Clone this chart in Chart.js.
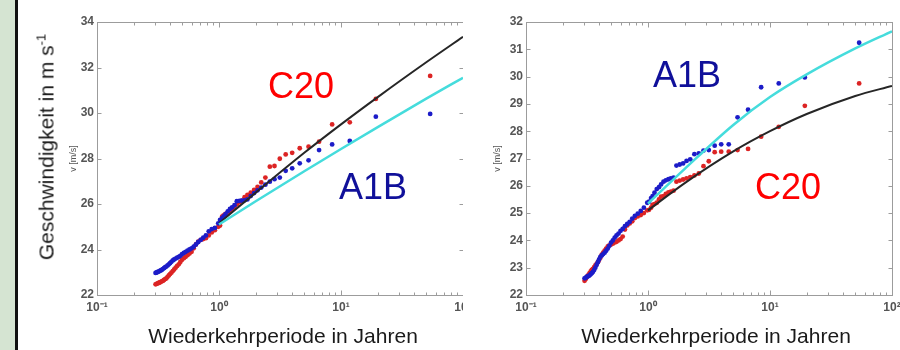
<!DOCTYPE html>
<html><head><meta charset="utf-8">
<script src="https://cdn.jsdelivr.net/npm/chart.js@4.4.1/dist/chart.umd.min.js"></script>
<style>
html,body{margin:0;padding:0;width:900px;height:350px;overflow:hidden;background:#fff;font-family:"Liberation Sans",Arial,sans-serif;}
#strip{position:absolute;left:0;top:0;width:15px;height:350px;background:#d5e4d2;}
#bar{position:absolute;left:15px;top:0;width:3px;height:350px;background:#111;}
#wrapL{position:absolute;left:0;top:0;width:463px;height:350px;overflow:hidden;}
#wrapR{position:absolute;left:470px;top:0;width:430px;height:350px;overflow:hidden;}
canvas{display:block;}
.lbl{position:absolute;white-space:nowrap;line-height:1;z-index:5;}
</style></head>
<body>
<div id="strip"></div><div id="bar"></div>
<div id="wrapL"><canvas id="cL" width="500" height="350"></canvas></div>
<div id="wrapR"><canvas id="cR" width="440" height="350"></canvas></div>
<div class="lbl" style="left:46px;top:147px;font-size:21px;color:#1a1a1a;transform:translate(-50%,-50%) rotate(-90deg);">Geschwindigkeit in m s<sup style="font-size:13px;line-height:0">-1</sup></div>
<div class="lbl" style="left:283px;top:335px;font-size:21px;color:#1a1a1a;transform:translate(-50%,-50%);">Wiederkehrperiode in Jahren</div>
<div class="lbl" style="left:716px;top:335px;font-size:21px;color:#1a1a1a;transform:translate(-50%,-50%);">Wiederkehrperiode in Jahren</div>
<div class="lbl" style="left:268px;top:68px;font-size:36px;color:#ff0000;">C20</div>
<div class="lbl" style="left:339px;top:169px;font-size:36px;color:#10109a;">A1B</div>
<div class="lbl" style="left:653px;top:57px;font-size:36px;color:#10109a;">A1B</div>
<div class="lbl" style="left:755px;top:169px;font-size:36px;color:#ff0000;">C20</div>
<script>
// return periods (years) of the plotted maxima
const periods = [53.8, 19.3, 11.8, 8.46, 6.61, 5.42, 4.59, 3.98, 3.52, 3.15, 2.85, 2.61, 2.40, 2.22, 2.07, 1.94, 1.82, 1.71, 1.62, 1.54, 1.47, 1.40, 1.34, 1.28, 1.23, 1.18, 1.13, 1.09, 1.06, 1.02,
  0.986, 0.925, 0.872, 0.824, 0.781, 0.743, 0.708, 0.676, 0.647, 0.620, 0.596, 0.573, 0.552, 0.533, 0.515, 0.498, 0.482, 0.468, 0.454, 0.441, 0.429, 0.418, 0.407, 0.397, 0.388, 0.379, 0.370, 0.362, 0.354, 0.346, 0.339, 0.332, 0.326, 0.320, 0.314, 0.308, 0.302];

const leftC20 = [31.63, 30.62, 29.59, 29.50, 28.74, 28.52, 28.45, 28.25, 28.18, 27.99, 27.67, 27.64, 27.16, 26.95, 26.75, 26.62, 26.50, 26.40, 26.30, 26.15, 26.08, 25.98, 25.88, 25.78, 25.70, 25.62, 25.56, 25.50, 25.44, 25.05,
  25.00, 24.85, 24.75, 24.62, 24.50, 24.46, 24.42, 24.35, 24.22, 24.05, 23.90, 23.82, 23.75, 23.68, 23.62, 23.55, 23.45, 23.35, 23.28, 23.20, 23.12, 23.05, 22.98, 22.92, 22.86, 22.80, 22.73, 22.70, 22.66, 22.62, 22.60, 22.57, 22.55, 22.53, 22.51, 22.49, 22.47];
const leftA1B = [29.96, 29.84, 28.77, 28.62, 28.37, 27.92, 27.79, 27.57, 27.46, 27.16, 27.09, 26.98, 26.85, 26.72, 26.60, 26.48, 26.35, 26.20, 26.16, 26.15, 26.14, 26.12, 25.95, 25.85, 25.78, 25.68, 25.55, 25.45, 25.38, 25.30,
  25.15, 24.95, 24.90, 24.80, 24.62, 24.52, 24.42, 24.33, 24.22, 24.12, 24.05, 24.00, 23.95, 23.90, 23.85, 23.80, 23.72, 23.68, 23.64, 23.60, 23.56, 23.52, 23.46, 23.40, 23.35, 23.30, 23.25, 23.22, 23.18, 23.14, 23.10, 23.08, 23.05, 23.03, 23.01, 22.99, 22.97];
const rightC20 = [29.75, 28.93, 28.16, 27.80, 27.35, 27.31, 27.25, 27.25, 27.23, 26.90, 26.72, 26.45, 26.38, 26.32, 26.27, 26.23, 26.19, 26.15, 25.82, 25.79, 25.76, 25.70, 25.62, 25.60, 25.50, 25.38, 25.33, 25.30, 25.20, 25.12,
  25.10, 25.00, 24.93, 24.88, 24.82, 24.70, 24.62, 24.55, 24.40, 24.14, 24.05, 24.00, 23.95, 23.92, 23.88, 23.85, 23.82, 23.78, 23.70, 23.62, 23.55, 23.48, 23.36, 23.28, 23.20, 23.14, 23.08, 23.02, 22.96, 22.92, 22.86, 22.80, 22.75, 22.70, 22.65, 22.58, 22.52];
const rightA1B = [31.24, 29.97, 29.75, 29.61, 28.79, 28.51, 27.52, 27.52, 27.47, 27.31, 27.29, 27.19, 27.16, 26.97, 26.91, 26.82, 26.78, 26.74, 26.30, 26.27, 26.24, 26.20, 26.15, 26.05, 25.95, 25.88, 25.75, 25.62, 25.55, 25.42,
  25.38, 25.20, 25.08, 24.98, 24.90, 24.80, 24.68, 24.60, 24.52, 24.42, 24.35, 24.25, 24.18, 24.10, 24.00, 23.92, 23.80, 23.70, 23.62, 23.55, 23.50, 23.45, 23.40, 23.30, 23.20, 23.10, 23.00, 22.92, 22.85, 22.80, 22.76, 22.72, 22.70, 22.68, 22.66, 22.63, 22.61];

// fitted extreme value curves
const fitPeriods = [1, 2, 5, 10, 20, 50, 100];
const leftFitC20 = [25.15, 26.5, 28.25, 29.5, 30.7, 32.23, 33.35];
const leftFitA1B = [25.1, 26.12, 27.44, 28.42, 29.38, 30.63, 31.55];
const rightFitC20 = [25.1, 26.1, 27.26, 28.0, 28.63, 29.29, 29.66];
const rightFitA1B = [25.35, 26.62, 28.23, 29.25, 30.08, 31.03, 31.66];

const xTickValues = [0.1, 1, 10, 100];
const xTickLabels = ['10\u207B\u00B9', '10\u2070', '10\u00B9', '10\u00B2'];
const yAxisTitle = 'v [m/s]';

Chart.defaults.font.family = '"Liberation Sans", Arial, sans-serif';

const pts = (arr) => periods.map((t, i) => ({x: t, y: arr[i]}));
const fit = (arr) => fitPeriods.map((t, i) => ({x: t, y: arr[i]}));

const frame = {
  id: 'frame',
  afterDatasetsDraw(chart) {
    const {ctx, chartArea: a, scales: {x, y}} = chart;
    ctx.save();
    ctx.strokeStyle = '#9c9c9c';
    ctx.lineWidth = 1;
    const L = Math.round(a.left) + 0.5, R = Math.round(a.right) + 0.5, T = Math.round(a.top) + 0.5, B = Math.round(a.bottom) + 0.5;
    ctx.strokeRect(L, T, R - L, B - T);
    ctx.beginPath();
    for (let e = -1; e < 2; e++) {
      for (let k = 1; k < 10; k++) {
        const px = Math.round(x.getPixelForValue(k * Math.pow(10, e))) + 0.5;
        const len = k === 1 ? 5 : 3;
        ctx.moveTo(px, B); ctx.lineTo(px, B - len);
        ctx.moveTo(px, T); ctx.lineTo(px, T + len);
      }
    }
    y.ticks.forEach(t => {
      const py = Math.round(y.getPixelForValue(t.value)) + 0.5;
      ctx.moveTo(L, py); ctx.lineTo(L + 4, py);
      ctx.moveTo(R, py); ctx.lineTo(R - 4, py);
    });
    ctx.stroke();
    ctx.restore();
  }
};

function makeChart(id, c20, a1b, fC20, fA1B, yMax, yStep, pad, yWidth) {
  return new Chart(document.getElementById(id), {
    type: 'scatter',
    data: {
      datasets: [
        {data: fit(fA1B), showLine: true, borderColor: '#45dcdc', borderWidth: 2.5, pointRadius: 0, cubicInterpolationMode: 'monotone', fill: false},
        {data: fit(fC20), showLine: true, borderColor: '#262626', borderWidth: 2, pointRadius: 0, cubicInterpolationMode: 'monotone', fill: false},
        {data: pts(a1b), backgroundColor: '#1c1cc8', borderWidth: 0, pointRadius: 2.4},
        {data: pts(c20), backgroundColor: '#dc2424', borderWidth: 0, pointRadius: 2.4}
      ]
    },
    options: {
      responsive: false,
      animation: false,
      devicePixelRatio: 1,
      layout: {padding: pad},
      plugins: {legend: {display: false}, tooltip: {enabled: false}},
      scales: {
        x: {
          type: 'logarithmic', min: 0.1, max: 100,
          grid: {display: false, drawTicks: false},
          border: {display: false},
          afterBuildTicks: (s) => { s.ticks = xTickValues.map(v => ({value: v})); },
          afterFit: (s) => { s.height = 55; },
          ticks: {autoSkip: false, maxRotation: 0, padding: 5, color: '#555', font: {size: 12, weight: 'bold'},
            callback: (v, i) => xTickLabels[i]}
        },
        y: {
          min: 22, max: yMax,
          grid: {display: false, drawTicks: false},
          border: {display: false},
          afterFit: (s) => { s.width = yWidth; },
          ticks: {stepSize: yStep, padding: 3, color: '#555', font: {size: 12, weight: 'bold'}},
          title: {display: true, text: yAxisTitle, color: '#555', font: {size: 9}, padding: {top: 8.6, bottom: 0}}
        }
      }
    },
    plugins: [frame]
  });
}

makeChart('cL', leftC20, leftA1B, leftFitC20, leftFitA1B, 34, 2, {left: 60, right: 37, top: 22, bottom: 0}, 37);
makeChart('cR', rightC20, rightA1B, rightFitC20, rightFitA1B, 32, 1, {left: 14, right: 18, top: 22, bottom: 0}, 42);
</script>
</body></html>
